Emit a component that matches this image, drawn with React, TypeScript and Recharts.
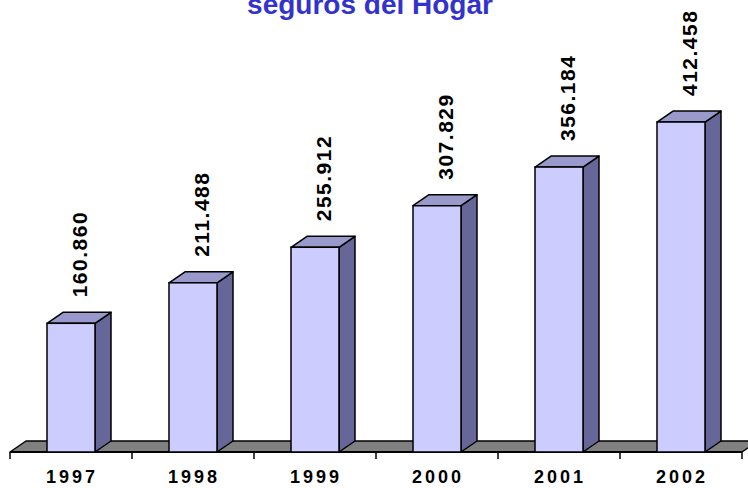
import { BarChart, Bar, XAxis, YAxis, LabelList } from "recharts";

const years = ["1997", "1998", "1999", "2000", "2001", "2002"];
const primas = [160860, 211488, 255912, 307829, 356184, 412458];
const title = "seguros del Hogar";

const data = years.map((year, i) => ({ year, value: primas[i] }));

// 3d look
const DX = 16;
const DY = 11;
const PLOT_LEFT = 10;
const PLOT_RIGHT = 742;
const FONT = "Arial, 'Liberation Sans', sans-serif";

const fmt = (v: number) => String(v).replace(/\B(?=(\d{3})+(?!\d))/g, ".");

function Bar3D(props: any) {
  const { x, y, width, height, index } = props;
  const base = y + height;
  const band = (PLOT_RIGHT - PLOT_LEFT) / years.length;
  const ticks = Array.from({ length: years.length + 1 }, (_, i) => PLOT_LEFT + i * band);
  return (
    <g>
      {index === 0 && (
        <g>
          <polygon
            points={`${PLOT_LEFT},${base} ${PLOT_LEFT + DX},${base - DY} ${PLOT_RIGHT + DX},${base - DY} ${PLOT_RIGHT},${base}`}
            fill="#808080"
            stroke="#000"
            strokeWidth={1.5}
            strokeLinejoin="round"
          />
          <line x1={PLOT_LEFT} y1={base} x2={PLOT_RIGHT} y2={base} stroke="#000" strokeWidth={2} />
          {ticks.map((tx) => (
            <line key={tx} x1={tx} y1={base} x2={tx} y2={base + 7} stroke="#000" strokeWidth={1.5} />
          ))}
        </g>
      )}
      <polygon
        points={`${x + width},${base} ${x + width + DX},${base - DY} ${x + width + DX},${y - DY} ${x + width},${y}`}
        fill="#666699"
        stroke="#000"
        strokeWidth={1.5}
        strokeLinejoin="round"
      />
      <polygon
        points={`${x},${y} ${x + DX},${y - DY} ${x + width + DX},${y - DY} ${x + width},${y}`}
        fill="#9999CC"
        stroke="#000"
        strokeWidth={1.5}
        strokeLinejoin="round"
      />
      <rect x={x} y={y} width={width} height={height} fill="#CCCCFF" stroke="#000" strokeWidth={1.5} />
    </g>
  );
}

function ValueLabel(props: any) {
  const { x, y, width, value } = props;
  const lx = x + width / 2 + 16;
  const ly = y - DY - 15;
  return (
    <text
      transform={`translate(${lx},${ly}) rotate(-90)`}
      textAnchor="start"
      fontFamily={FONT}
      fontWeight="bold"
      fontSize={21}
      fill="#000"
      style={{ letterSpacing: 1.5 }}
    >
      {fmt(value)}
    </text>
  );
}

function YearTick(props: any) {
  const { x, y, payload } = props;
  return (
    <text
      x={x + 1}
      y={y + 23}
      textAnchor="middle"
      fontFamily={FONT}
      fontWeight="bold"
      fontSize={18}
      fill="#000"
      style={{ letterSpacing: 3 }}
    >
      {payload.value}
    </text>
  );
}

export default function App() {
  return (
    <div style={{ position: "absolute", left: 0, top: 0, width: 748, height: 488, background: "#fff" }}>
      <BarChart width={748} height={488} data={data} margin={{ top: 52, right: 6, left: 10, bottom: 6 }} barSize={48}>
        <XAxis dataKey="year" axisLine={false} tickLine={false} interval={0} tick={<YearTick />} height={30} />
        <YAxis hide domain={[0, 500000]} />
        <Bar dataKey="value" shape={<Bar3D />} isAnimationActive={false}>
          <LabelList dataKey="value" content={<ValueLabel />} />
        </Bar>
      </BarChart>
      <svg width={748} height={40} style={{ position: "absolute", left: 0, top: 0, pointerEvents: "none" }}>
        <text
          x={370}
          y={14}
          textAnchor="middle"
          fontFamily={FONT}
          fontWeight="bold"
          fontSize={28}
          fill="#3333CC"
        >
          {title}
        </text>
      </svg>
    </div>
  );
}
